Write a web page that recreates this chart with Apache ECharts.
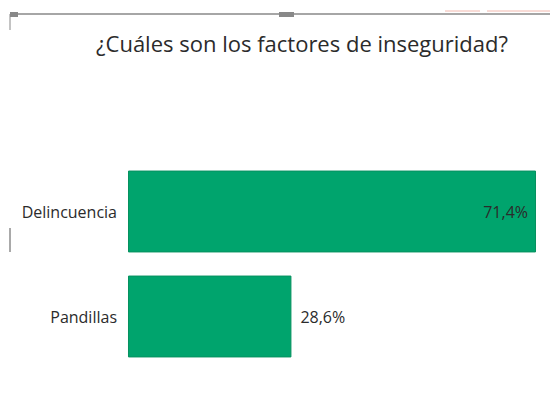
<!DOCTYPE html>
<html>
<head>
<meta charset="utf-8">
<script src="https://cdn.jsdelivr.net/npm/echarts@6/dist/echarts.min.js"></script>
<style>
  html, body { margin: 0; padding: 0; background: #ffffff; }
  #chart { width: 550px; height: 410px; }
</style>
</head>
<body>
<div id="chart"></div>
<script>
var categories = ['Delincuencia', 'Pandillas'];
var values = [71.4, 28.6];
var labelPos = ['insideRight', 'right'];

var chart = echarts.init(document.getElementById('chart'), null, { renderer: 'svg' });

chart.setOption({
  animation: false,
  title: {
    text: '¿Cuáles son los factores de inseguridad?',
    left: 297,
    top: 27,
    textAlign: 'center',
    textStyle: { fontFamily: 'Open Sans', fontWeight: 'normal', fontSize: 22, color: '#2b2b2b' }
  },
  // frame / selection handles seen in the screenshot
  graphic: [
    { type: 'line', shape: { x1: 10, y1: 14, x2: 550, y2: 14 }, style: { stroke: '#888', lineWidth: 1.5 } },
    { type: 'rect', shape: { x: 10, y: 12, width: 8, height: 5 }, style: { fill: '#888' } },
    { type: 'rect', shape: { x: 279, y: 12, width: 15, height: 5 }, style: { fill: '#888' } },
    { type: 'line', shape: { x1: 10, y1: 14, x2: 10, y2: 30 }, style: { stroke: '#888', lineWidth: 1 } },
    { type: 'line', shape: { x1: 10, y1: 228, x2: 10, y2: 252 }, style: { stroke: '#555', lineWidth: 1 } },
    { type: 'line', shape: { x1: 445, y1: 11, x2: 480, y2: 11 }, style: { stroke: '#f2b8ae', lineWidth: 1 } },
    { type: 'line', shape: { x1: 487, y1: 11, x2: 550, y2: 11 }, style: { stroke: '#f2b8ae', lineWidth: 1 } }
  ],
  grid: { left: 128, right: 14, top: 159, bottom: 41 },
  xAxis: {
    type: 'value',
    min: 0,
    max: 71.4,
    show: false
  },
  yAxis: {
    type: 'category',
    data: categories,
    inverse: true,
    axisLine: { show: false },
    axisTick: { show: false },
    axisLabel: { margin: 11, fontFamily: 'Open Sans', fontSize: 16, color: '#2b2b2b' }
  },
  series: [{
    type: 'bar',
    barCategoryGap: '22%',
    data: values.map(function (v, i) {
      return {
        value: v,
        label: { position: labelPos[i], distance: i === 0 ? 8 : 9 }
      };
    }),
    itemStyle: { color: '#00a46d', borderColor: '#06915f', borderWidth: 1 },
    label: {
      show: true,
      fontFamily: 'Open Sans',
      fontSize: 16,
      color: '#2b2b2b',
      formatter: function (p) { return String(p.value).replace('.', ',') + '%'; }
    }
  }]
});
</script>
</body>
</html>
